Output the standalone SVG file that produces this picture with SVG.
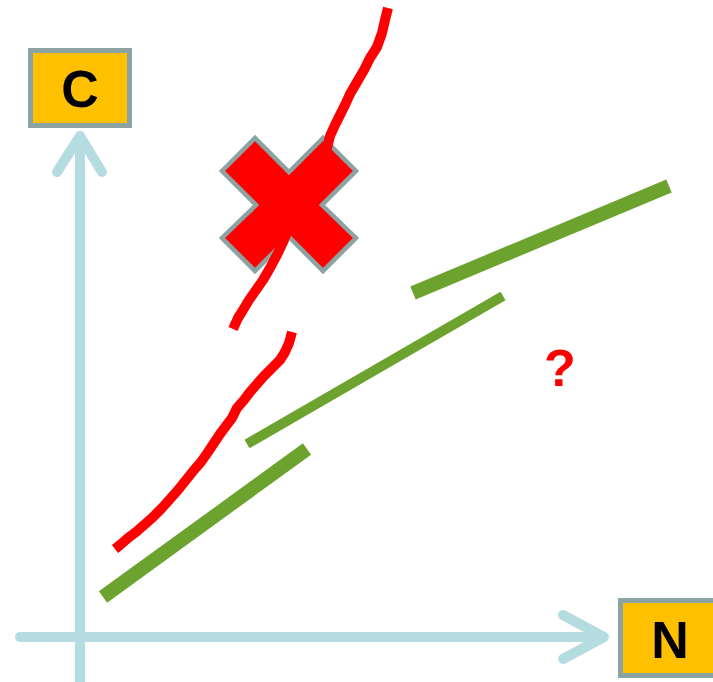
<svg xmlns="http://www.w3.org/2000/svg" width="713" height="682" viewBox="0 0 713 682">
<style>
.axis{stroke:#B5DCE0;stroke-width:10;fill:none;stroke-linecap:round;stroke-linejoin:round}
.box{fill:#FFC000;stroke:#8DA3A3;stroke-width:5}
.lbl{font-family:"Liberation Sans",Arial,sans-serif;font-weight:bold;fill:#000;text-anchor:middle}
.green{stroke:#6BA32E;fill:none;stroke-linecap:butt}
.red{stroke:#FF0000;stroke-width:10;fill:none;stroke-linejoin:round;stroke-linecap:butt}
</style>
<rect width="713" height="682" fill="#fff"/>
<g id="connectors">
<line class="axis" x1="80" y1="140" x2="80" y2="682" stroke-linecap="butt"/>
<polyline class="axis" points="57,172 80,136 102,172"/>
<line class="axis" x1="20" y1="637" x2="600" y2="637" stroke-linecap="butt"/>
<polyline class="axis" points="563,615 604,637 563,659"/>
</g>
<g id="C">
<rect class="box" x="30.5" y="50.5" width="99" height="75"/>
<text class="lbl" x="80" y="107" font-size="52">C</text>
</g>
<g id="N">
<rect class="box" x="620.5" y="600.5" width="99" height="75"/>
<text class="lbl" x="670" y="658" font-size="52">N</text>
</g>
<g id="green-lines">
<line class="green" stroke-width="14" x1="103" y1="597" x2="307" y2="449"/>
<line class="green" stroke-width="10" x1="247" y1="444" x2="503" y2="296"/>
<line class="green" stroke-width="14" x1="413" y1="293" x2="669" y2="186"/>
</g>
<g id="red-lower">
<polyline class="red" points="292,332 289,343 285,352 280,360 272,368 264,376 257,384 250,392 244,400 237,408 232,418 226,426 220,434 214,443 208,452 201,462 194,470 186,480 178,490 170,499 162,508 152,518 144,525 136,532 128,538 120,545 115,549"/>
</g>
<g id="X">
<polygon points="222,171 255,138 289,172 323,138 356,171 322,205 356,238 323,271 289,237 255,271 222,238 256,205" fill="#FF0000" stroke="#8DA3A3" stroke-width="4.5" stroke-linejoin="miter"/>
</g>
<g id="red-upper">
<polyline class="red" points="388,8 385,20 382,33 377,47 370,58 364,70 357,82 350,94 345,105 340,115 335,125 330,136 327,148 323,160 316,176 308,190 300,203 292,220 284,240 277,255 270,268 263,280 256,290 249,300 243,310 238,318 233,329"/>
</g>
<g id="q">
<text x="560" y="386" font-family="'Liberation Sans',Arial,sans-serif" font-weight="bold" font-size="52" fill="#FF0000" text-anchor="middle">?</text>
</g>
</svg>
